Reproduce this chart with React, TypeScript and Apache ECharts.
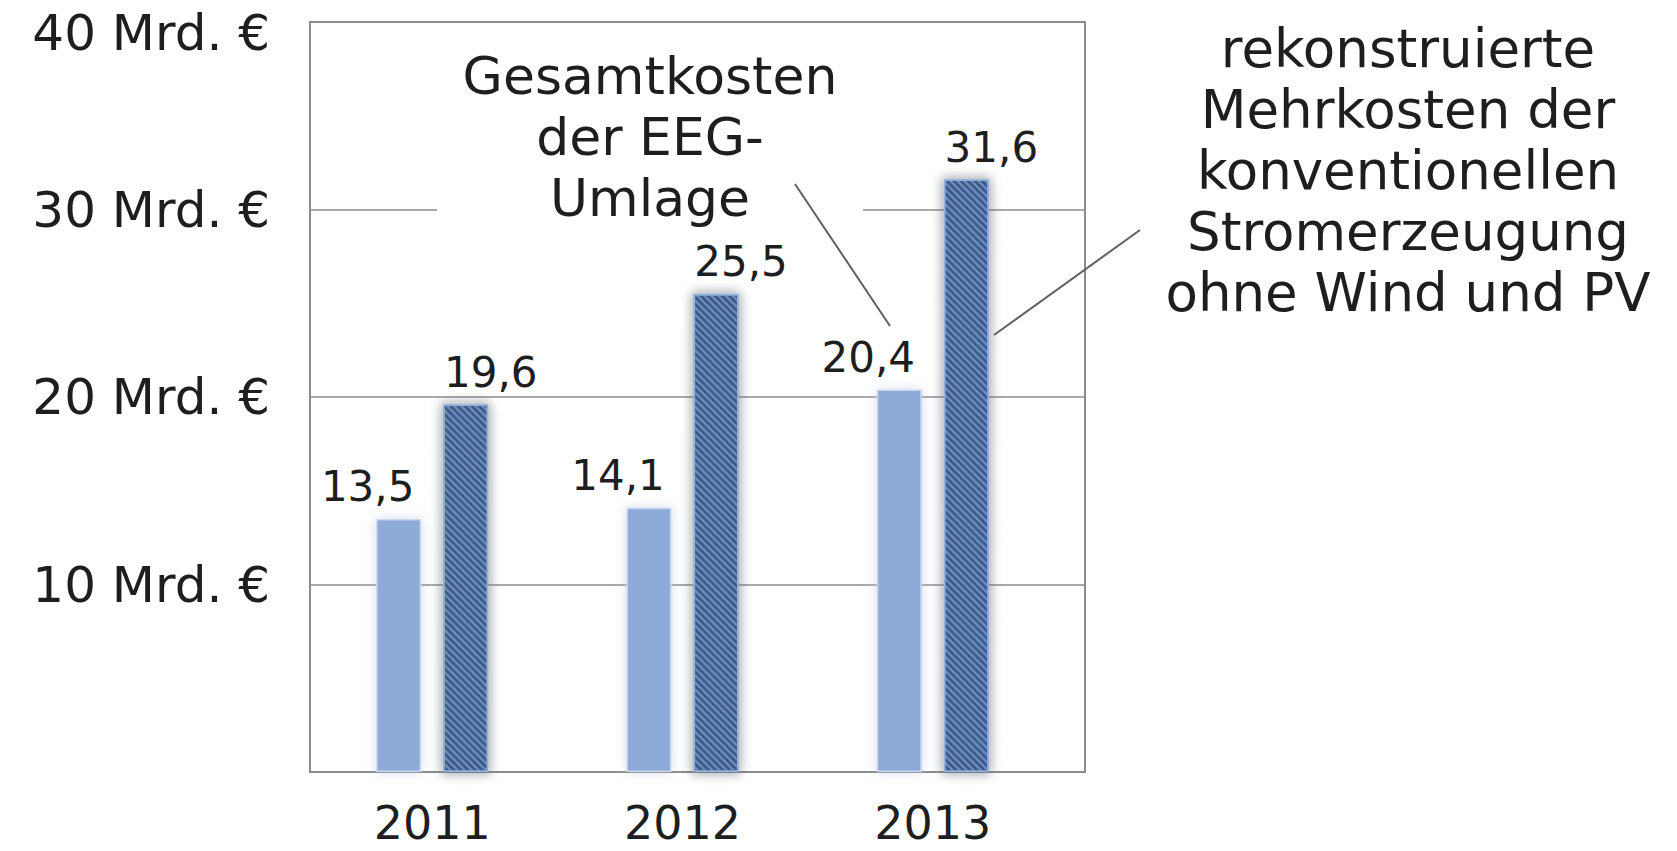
import React, { useEffect, useRef } from "react";
import * as echarts from "echarts";

const years = ["2011", "2012", "2013"];
const eegTotal = [13.5, 14.1, 20.4];
const conventional = [19.6, 25.5, 31.6];
const yTicks = [10, 20, 30, 40];
const yUnit = "Mrd. €";
const noteEEG = ["Gesamtkosten", "der EEG-", "Umlage"];
const noteConv = [
  "rekonstruierte",
  "Mehrkosten der",
  "konventionellen",
  "Stromerzeugung",
  "ohne Wind und PV",
];

const FONT = "'DejaVu Sans', 'Liberation Sans', Arial, sans-serif";
const GRID_COLOR = "#8c8c8c";

function deNum(v: number) {
  return String(v).replace(".", ",");
}

export default function App() {
  const ref = useRef<HTMLDivElement>(null);

  useEffect(() => {
    if (!ref.current) return;
    const chart = echarts.init(ref.current, undefined, { renderer: "svg" });
    const yMax = yTicks[yTicks.length - 1];
    const step = yTicks[1] - yTicks[0];

    chart.setOption({
      animation: false,
      backgroundColor: "#ffffff",
      textStyle: { fontFamily: FONT },
      grid: [
        {
          left: 310,
          right: 592,
          top: 22,
          bottom: 79,
          show: true,
          borderColor: GRID_COLOR,
          borderWidth: 2,
          backgroundColor: "transparent",
        },
        { left: 307, right: 619, top: 22, bottom: 79 },
      ],
      xAxis: [
        { gridIndex: 0, type: "category", data: years, show: false },
        {
          gridIndex: 1,
          type: "category",
          data: years,
          axisLine: { show: false },
          axisTick: { show: false },
          axisLabel: {
            fontSize: 46,
            color: "#1e1e1e",
            margin: 28,
            fontFamily: FONT,
          },
        },
      ],
      yAxis: [
        {
          gridIndex: 0,
          type: "value",
          min: 0,
          max: yMax,
          interval: step,
          axisLine: { show: false },
          axisTick: { show: false },
          splitLine: { lineStyle: { color: GRID_COLOR, width: 1.5 } },
          axisLabel: {
            fontSize: 50,
            color: "#1e1e1e",
            margin: 40,
            fontFamily: FONT,
            formatter: (v: number) => {
              if (!yTicks.includes(v)) return "";
              return v === yMax ? `{top|${v} ${yUnit}}` : `${v} ${yUnit}`;
            },
            rich: {
              top: {
                fontSize: 50,
                color: "#1e1e1e",
                fontFamily: FONT,
                padding: [22, 0, 0, 0],
              },
            },
          },
        },
        { gridIndex: 1, type: "value", min: 0, max: yMax, interval: step, show: false },
      ],
      series: [
        {
          name: "Gesamtkosten der EEG-Umlage",
          type: "bar",
          xAxisIndex: 1,
          yAxisIndex: 1,
          data: eegTotal,
          barWidth: 45,
          barGap: "49%",
          itemStyle: {
            color: "#8eaad8",
            borderColor: "#c9d8ee",
            borderWidth: 1.5,
            shadowBlur: 12,
            shadowColor: "rgba(175,190,215,0.55)",
          },
          label: {
            show: true,
            position: "top",
            distance: 11,
            offset: [-31, 0],
            fontSize: 42,
            color: "#1e1e1e",
            fontFamily: FONT,
            formatter: (p: any) => deNum(p.value),
          },
          z: 3,
        },
        {
          name: "rekonstruierte Mehrkosten der konventionellen Stromerzeugung ohne Wind und PV",
          type: "bar",
          xAxisIndex: 1,
          yAxisIndex: 1,
          data: conventional,
          barWidth: 45,
          itemStyle: {
            color: "#4a6ea6",
            borderColor: "#8fb0dc",
            borderWidth: 1.5,
            shadowBlur: 12,
            shadowColor: "rgba(175,190,215,0.55)",
            decal: {
              symbol: "rect",
              symbolSize: 1,
              color: "rgba(170,200,240,0.35)",
              dashArrayX: [1, 0],
              dashArrayY: [2, 3],
              rotation: Math.PI / 4,
            },
          },
          label: {
            show: true,
            position: "top",
            distance: 11,
            offset: [25, 0],
            fontSize: 42,
            color: "#1e1e1e",
            fontFamily: FONT,
            formatter: (p: any) => deNum(p.value),
          },
          z: 3,
        },
      ],
      graphic: [
        {
          type: "rect",
          z: 50,
          shape: { x: 437, y: 40, width: 426, height: 185 },
          style: { fill: "#ffffff" },
        },
        {
          type: "text",
          z: 51,
          x: 650,
          y: 137,
          style: {
            text: noteEEG.join("\n"),
            fontSize: 52,
            fontFamily: FONT,
            lineHeight: 61,
            align: "center",
            verticalAlign: "middle",
            fill: "#1e1e1e",
          },
        },
        {
          type: "line",
          z: 52,
          shape: { x1: 795, y1: 184, x2: 890, y2: 326 },
          style: { stroke: "#606060", lineWidth: 2 },
        },
        {
          type: "text",
          z: 51,
          x: 1408,
          y: 170,
          style: {
            text: noteConv.join("\n"),
            fontSize: 53,
            fontFamily: FONT,
            lineHeight: 61,
            align: "center",
            verticalAlign: "middle",
            fill: "#1e1e1e",
          },
        },
        {
          type: "line",
          z: 52,
          shape: { x1: 1140, y1: 230, x2: 994, y2: 335 },
          style: { stroke: "#606060", lineWidth: 2 },
        },
      ],
    });

    return () => chart.dispose();
  }, []);

  return (
    <div
      ref={ref}
      style={{ position: "absolute", left: 0, top: 0, width: 1677, height: 851 }}
    />
  );
}
